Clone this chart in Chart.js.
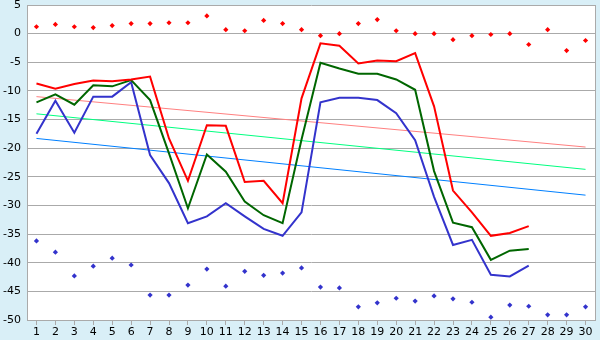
<!DOCTYPE html>
<html>
<head>
<meta charset="utf-8">
<script src="https://cdn.jsdelivr.net/npm/chart.js@4"></script>
<style>
  html, body { margin: 0; padding: 0; background: #d9eff7; }
  #chart { display: block; }
</style>
</head>
<body>
<canvas id="chart" width="600" height="340"></canvas>
<script>
// ---- Data ----
const days = Array.from({ length: 30 }, (_, i) => String(i + 1));

const redLine = [-8.7, -9.6, -8.8, -8.2, -8.3, -8.0, -7.5, -18.3, -25.7, -16.0,
  -16.1, -25.9, -25.7, -29.6, -11.3, -1.7, -2.1, -5.2, -4.7, -4.8,
  -3.4, -12.7, -27.4, -31.2, -35.3, -34.8, -33.6, null, null, null];
const greenLine = [-12.0, -10.6, -12.4, -9.0, -9.2, -8.1, -11.6, -20.9, -30.5, -21.1,
  -24.1, -29.3, -31.7, -33.1, -18.5, -5.1, -6.1, -7.0, -7.0, -8.0,
  -9.8, -24.0, -33.0, -33.8, -39.5, -37.9, -37.6, null, null, null];
const blueLine = [-17.5, -11.7, -17.3, -11.0, -11.0, -8.5, -21.2, -26.1, -33.1, -31.9,
  -29.6, -31.9, -34.1, -35.3, -31.2, -12.0, -11.2, -11.2, -11.6, -13.9,
  -18.6, -28.5, -36.9, -36.0, -42.1, -42.4, -40.5, null, null, null];

const redDots = [1.2, 1.6, 1.2, 1.05, 1.4, 1.75, 1.75, 1.9, 1.9, 3.1,
  0.7, 0.5, 2.3, 1.75, 0.7, -0.35, 0.0, 1.75, 2.45, 0.5,
  0.0, 0.0, -1.05, -0.35, -0.15, 0.0, -1.9, 0.7, -2.95, -1.2];
const blueDots = [-36.2, -38.15, -42.3, -40.6, -39.2, -40.4, -45.65, -45.65, -43.9, -41.1,
  -44.1, -41.5, -42.2, -41.8, -40.9, -44.25, -44.4, -47.7, -47.0, -46.2,
  -46.7, -45.8, -46.3, -46.9, -49.5, -47.4, -47.6, -49.1, -49.1, -47.7];

// trend lines: only the two end points are given, the line spans the gap
const redTrend = [-11.0, ...Array(28).fill(null), -19.8];
const greenTrend = [-14.0, ...Array(28).fill(null), -23.7];
const blueTrend = [-18.3, ...Array(28).fill(null), -28.2];

const yTicks = { min: -50, max: 5, step: 5 };

// ---- Styling helpers ----
const OUTER_BG = "#d9eff7";
const GRID = "#aaaaaa";

const bgPlugin = {
  id: "bg",
  beforeDraw(chart) {
    const { ctx, chartArea: a } = chart;
    ctx.save();
    ctx.fillStyle = OUTER_BG;
    ctx.fillRect(0, 0, chart.width, chart.height);
    ctx.fillStyle = "#ffffff";
    ctx.fillRect(a.left, a.top, a.right - a.left, a.bottom - a.top);
    ctx.restore();
  },
  afterDraw(chart) {
    const { ctx, chartArea: a } = chart;
    ctx.save();
    ctx.strokeStyle = GRID;
    ctx.lineWidth = 1;
    ctx.beginPath();
    ctx.moveTo(Math.round(a.right) + 0.5, a.top);
    ctx.lineTo(Math.round(a.right) + 0.5, a.bottom);
    ctx.stroke();
    ctx.restore();
  },
};

function lineSet(data, color, order) {
  return {
    data, borderColor: color, backgroundColor: color,
    borderWidth: 2, pointRadius: 0, tension: 0, order,
  };
}
function trendSet(data, color) {
  return {
    data, borderColor: color, backgroundColor: color,
    borderWidth: 1, pointRadius: 0, spanGaps: true, order: 10,
  };
}
function dotSet(data, color) {
  return {
    data, showLine: false, borderWidth: 0, pointStyle: "rectRot",
    pointRadius: 2.6, backgroundColor: color, borderColor: color, order: 5,
  };
}

Chart.defaults.font.family = "'DejaVu Sans', Verdana, sans-serif";
Chart.defaults.font.size = 11;
Chart.defaults.color = "#000";

new Chart(document.getElementById("chart"), {
  type: "line",
  data: {
    labels: days,
    datasets: [
      trendSet(redTrend, "#ff8080"),
      trendSet(greenTrend, "#00ff80"),
      trendSet(blueTrend, "#0080ff"),
      dotSet(redDots, "#ff0000"),
      dotSet(blueDots, "#3333cc"),
      lineSet(blueLine, "#3333cc", 3),
      lineSet(greenLine, "#006600", 2),
      lineSet(redLine, "#ff0000", 1),
    ],
  },
  options: {
    responsive: false,
    animation: false,
    layout: { padding: { top: 5, right: 5, left: 0, bottom: 0 } },
    plugins: { legend: { display: false }, tooltip: { enabled: false } },
    scales: {
      x: {
        offset: true,
        grid: { drawOnChartArea: false, drawTicks: true, tickLength: 5, color: GRID },
        border: { color: GRID },
        ticks: { padding: 1, maxRotation: 0, autoSkip: false },
        afterFit: (s) => { s.height = 20; s.paddingLeft = 0; s.paddingRight = 0; },
      },
      y: {
        min: yTicks.min, max: yTicks.max,
        grid: { color: GRID, drawTicks: false },
        border: { color: GRID },
        ticks: { stepSize: yTicks.step, padding: 6 },
        afterFit: (s) => { s.width = 27; s.paddingTop = 0; s.paddingBottom = 0; },
      },
    },
  },
  plugins: [bgPlugin],
});
</script>
</body>
</html>
